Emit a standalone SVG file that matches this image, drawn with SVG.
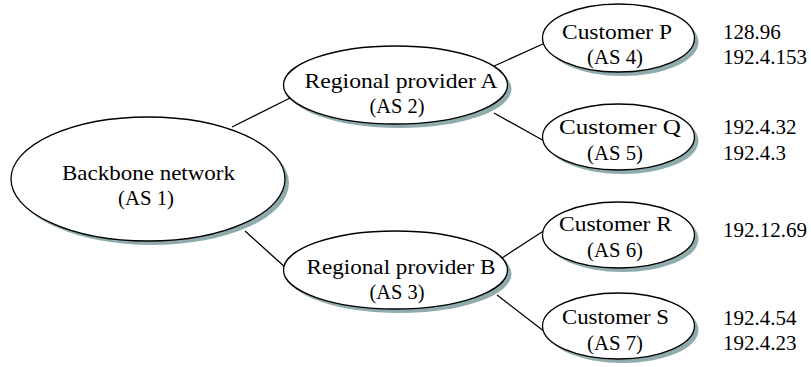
<svg xmlns="http://www.w3.org/2000/svg" width="811" height="367" viewBox="0 0 811 367">
<style>
.sh{fill:#8fabab;stroke:none}
.el{fill:#fff;stroke:#000;stroke-width:1.3}
.t{font-family:"Liberation Serif","Times New Roman",serif;font-size:22px;fill:#000;text-anchor:middle}
.ip{font-family:"Liberation Serif","Times New Roman",serif;font-size:21px;fill:#000}
.ln{stroke:#000;stroke-width:1.3;fill:none}
</style>
<rect width="811" height="367" fill="#fff"/>
<g id="connectors">
<line class="ln" x1="232" y1="127" x2="290" y2="98"/>
<line class="ln" x1="245" y1="231" x2="286" y2="268"/>
<line class="ln" x1="492" y1="67" x2="545" y2="43"/>
<line class="ln" x1="494" y1="113" x2="546" y2="142"/>
<line class="ln" x1="502" y1="258" x2="545" y2="230"/>
<line class="ln" x1="497" y1="295" x2="545" y2="332"/>
</g>
<g id="backbone">
<ellipse class="sh" cx="152" cy="183" rx="137" ry="62"/>
<ellipse class="el" cx="148" cy="179" rx="137" ry="62"/>
<text class="t" x="148.5" y="180" textLength="173" lengthAdjust="spacingAndGlyphs">Backbone network</text>
<text class="t" x="146" y="205" textLength="56" lengthAdjust="spacingAndGlyphs">(AS 1)</text>
</g>
<g id="regionalA">
<ellipse class="sh" cx="399.5" cy="89" rx="112" ry="39"/>
<ellipse class="el" cx="395.5" cy="85" rx="112" ry="39"/>
<text class="t" x="401" y="88" textLength="193" lengthAdjust="spacingAndGlyphs">Regional provider A</text>
<text class="t" x="397" y="113" textLength="55" lengthAdjust="spacingAndGlyphs">(AS 2)</text>
</g>
<g id="regionalB">
<ellipse class="sh" cx="399.5" cy="274" rx="112" ry="39"/>
<ellipse class="el" cx="395.5" cy="270" rx="112" ry="39"/>
<text class="t" x="401" y="274" textLength="189" lengthAdjust="spacingAndGlyphs">Regional provider B</text>
<text class="t" x="397" y="299" textLength="55" lengthAdjust="spacingAndGlyphs">(AS 3)</text>
</g>
<g id="customerP">
<ellipse class="sh" cx="622.5" cy="42" rx="76" ry="34"/>
<ellipse class="el" cx="618.5" cy="38" rx="76" ry="34"/>
<text class="t" x="617" y="39" textLength="110" lengthAdjust="spacingAndGlyphs">Customer P</text>
<text class="t" x="615" y="64" textLength="56" lengthAdjust="spacingAndGlyphs">(AS 4)</text>
</g>
<g id="customerQ">
<ellipse class="sh" cx="622.5" cy="141" rx="76" ry="33"/>
<ellipse class="el" cx="618.5" cy="137" rx="76" ry="33"/>
<text class="t" x="620" y="134" textLength="122" lengthAdjust="spacingAndGlyphs">Customer Q</text>
<text class="t" x="615" y="160" textLength="56" lengthAdjust="spacingAndGlyphs">(AS 5)</text>
</g>
<g id="customerR">
<ellipse class="sh" cx="622.5" cy="239" rx="76" ry="33"/>
<ellipse class="el" cx="618.5" cy="235" rx="76" ry="33"/>
<text class="t" x="615.5" y="231" textLength="113" lengthAdjust="spacingAndGlyphs">Customer R</text>
<text class="t" x="615" y="257" textLength="56" lengthAdjust="spacingAndGlyphs">(AS 6)</text>
</g>
<g id="customerS">
<ellipse class="sh" cx="622.5" cy="330" rx="76" ry="33"/>
<ellipse class="el" cx="618.5" cy="326" rx="76" ry="33"/>
<text class="t" x="615.5" y="324" textLength="107" lengthAdjust="spacingAndGlyphs">Customer S</text>
<text class="t" x="615" y="350" textLength="56" lengthAdjust="spacingAndGlyphs">(AS 7)</text>
</g>
<g id="addresses">
<text class="ip" x="723" y="39">128.96</text>
<text class="ip" x="723" y="64">192.4.153</text>
<text class="ip" x="723" y="134">192.4.32</text>
<text class="ip" x="723" y="160">192.4.3</text>
<text class="ip" x="723" y="237">192.12.69</text>
<text class="ip" x="723" y="325">192.4.54</text>
<text class="ip" x="723" y="350">192.4.23</text>
</g>
</svg>
